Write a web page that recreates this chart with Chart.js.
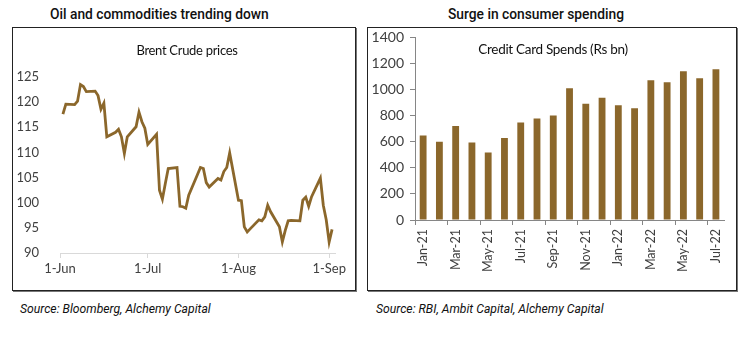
<!DOCTYPE html>
<html>
<head>
<meta charset="utf-8">
<script src="https://cdn.jsdelivr.net/npm/chart.js@4"></script>
<style>
  html, body { margin: 0; padding: 0; background: #fff; }
  body { width: 756px; height: 341px; position: relative; overflow: hidden; font-family: Roboto, "Noto Sans", sans-serif; }
  .head { position: absolute; top: 6px; font-size: 13.8px; font-weight: 500; color: #111; white-space: nowrap; }
  .box { position: absolute; border: 1px solid #222; box-shadow: 1px 1px 0 #777; background: #fff; }
  .ctitle { position: absolute; font-family: Lato, sans-serif; font-size: 13px; color: #111; white-space: nowrap; letter-spacing: -0.3px; transform: translateX(-50%); }
  .src { position: absolute; top: 302px; font-size: 12.2px; font-style: italic; color: #111; white-space: nowrap; }
  canvas { position: absolute; }
</style>
</head>
<body>
<div class="head" style="left:50px;">Oil and commodities trending down</div>
<div class="head" style="left:448px;">Surge in consumer spending</div>
<div class="box" style="left:12px; top:27px; width:342px; height:262px;"></div>
<div class="box" style="left:367px; top:27px; width:368px; height:262px;"></div>
<div style="position:absolute; left:13px; top:28px; width:342px; height:262px;"><canvas id="c1"></canvas></div>
<div style="position:absolute; left:368px; top:23px; width:367px; height:267px;"><canvas id="c2"></canvas></div>
<div class="ctitle" style="left:187px; top:42px;">Brent Crude prices</div>
<div class="ctitle" style="left:553px; top:41px; font-size:13.5px;">Credit Card Spends (Rs bn)</div>
<div class="src" style="left:20px;">Source: Bloomberg, Alchemy Capital</div>
<div class="src" style="left:376px;">Source: RBI, Ambit Capital, Alchemy Capital</div>
<script>
// ---- Brent crude (USD/bbl) ----
const brentDates = ['2022-06-02','2022-06-03','2022-06-06','2022-06-07','2022-06-08','2022-06-09','2022-06-10','2022-06-13','2022-06-14','2022-06-15','2022-06-16','2022-06-17','2022-06-20','2022-06-21','2022-06-22','2022-06-23','2022-06-24','2022-06-27','2022-06-28','2022-06-29','2022-06-30','2022-07-01','2022-07-04','2022-07-05','2022-07-06','2022-07-07','2022-07-08','2022-07-11','2022-07-12','2022-07-13','2022-07-14','2022-07-15','2022-07-18','2022-07-19','2022-07-20','2022-07-21','2022-07-22','2022-07-25','2022-07-26','2022-07-27','2022-07-28','2022-07-29','2022-08-01','2022-08-02','2022-08-03','2022-08-04','2022-08-05','2022-08-08','2022-08-09','2022-08-10','2022-08-11','2022-08-12','2022-08-15','2022-08-16','2022-08-17','2022-08-18','2022-08-19','2022-08-22','2022-08-23','2022-08-24','2022-08-25','2022-08-26','2022-08-29','2022-08-30','2022-08-31','2022-09-01','2022-09-02'];
const brentPrices = [117.6,119.6,119.5,120.2,123.5,123.1,122.1,122.2,121.3,118.6,119.8,113.1,114.0,114.6,113.1,109.8,113.1,115.1,118.0,116.1,114.8,111.6,113.6,102.5,100.7,103.8,106.8,107.0,99.3,99.2,98.9,101.5,105.6,107.0,106.8,104.0,103.1,104.8,104.5,106.2,107.0,109.9,100.5,100.4,95.2,94.2,94.8,96.6,96.4,97.2,99.5,98.2,95.2,92.2,94.5,96.4,96.5,96.4,100.5,101.1,99.3,101.2,104.9,99.5,96.6,92.2,94.7];
const brentTickDates = ['2022-06-01','2022-07-01','2022-08-01','2022-09-01'];
const brentTickLabels = ['1-Jun','1-Jul','1-Aug','1-Sep'];

// ---- Credit card spends (Rs bn) ----
const months = ['Jan-21','Feb-21','Mar-21','Apr-21','May-21','Jun-21','Jul-21','Aug-21','Sep-21','Oct-21','Nov-21','Dec-21','Jan-22','Feb-22','Mar-22','Apr-22','May-22','Jun-22','Jul-22'];
const spends = [648,600,720,595,518,628,748,779,802,1010,892,938,879,856,1071,1056,1141,1087,1156];

const BROWN = '#8b672b';
const base = Date.UTC(2022,5,1);
const dayOf = s => { const p = s.split('-').map(Number); return (Date.UTC(p[0],p[1]-1,p[2]) - base) / 86400000; };
const tickDays = brentTickDates.map(dayOf);

new Chart(document.getElementById('c1'), {
  type: 'line',
  data: { datasets: [{ data: brentDates.map((d,i) => ({x: dayOf(d), y: brentPrices[i]})), borderColor: BROWN, borderWidth: 2.8, pointRadius: 0, tension: 0, fill: false }] },
  options: {
    responsive: true, maintainAspectRatio: false, animation: false,
    layout: { padding: { left: 0, right: 20, top: 49, bottom: 0 } },
    plugins: { legend: { display: false }, tooltip: { enabled: false } },
    scales: {
      x: {
        type: 'linear', min: 0, max: 94,
        afterBuildTicks: s => { s.ticks = tickDays.map(v => ({ value: v })); },
        afterFit: s => { s.height = 37; },
        ticks: { autoSkip: false, maxRotation: 0, padding: 3, color: '#404040', font: { family: 'Lato', size: 13 },
          callback: (v) => { const i = tickDays.indexOf(v); return i >= 0 ? brentTickLabels[i] : ''; } },
        grid: { drawOnChartArea: false, tickLength: 5, color: '#d9d9d9', tickColor: '#d9d9d9' },
        border: { color: '#d9d9d9', width: 1 }
      },
      y: {
        min: 90, max: 125,
        afterFit: s => { s.width = 47; },
        ticks: { stepSize: 5, padding: 13, color: '#404040', font: { family: 'Lato', size: 13 } },
        grid: { display: false },
        border: { display: false }
      }
    }
  }
});

new Chart(document.getElementById('c2'), {
  type: 'bar',
  data: { labels: months, datasets: [{ data: spends, backgroundColor: BROWN, borderWidth: 0, categoryPercentage: 1, barPercentage: 0.42 }] },
  options: {
    responsive: true, maintainAspectRatio: false, animation: false,
    layout: { padding: { left: 0, right: 3, top: 0, bottom: 0 } },
    plugins: { legend: { display: false }, tooltip: { enabled: false } },
    scales: {
      x: {
        afterFit: s => { s.height = 70; },
        ticks: { autoSkip: false, minRotation: 90, maxRotation: 90, padding: 4, color: '#404040', font: { family: 'Lato', size: 12.5 },
          callback: function(v, i) { return i % 2 === 0 ? this.getLabelForValue(v) : ''; } },
        grid: { offset: true, drawOnChartArea: false, tickLength: 5, color: '#868686',
          tickColor: ctx => (ctx.index % 2 === 0 ? '#868686' : 'rgba(0,0,0,0)') },
        border: { color: '#868686', width: 1 }
      },
      y: {
        min: 0, max: 1400,
        afterFit: s => { s.width = 47; },
        ticks: { stepSize: 200, padding: 6, color: '#404040', font: { family: 'Lato', size: 14 }, callback: v => String(v) },
        grid: { drawOnChartArea: false, tickLength: 5, color: '#868686', tickColor: '#868686' },
        border: { color: '#868686', width: 1 }
      }
    }
  }
});
</script>
</body>
</html>
